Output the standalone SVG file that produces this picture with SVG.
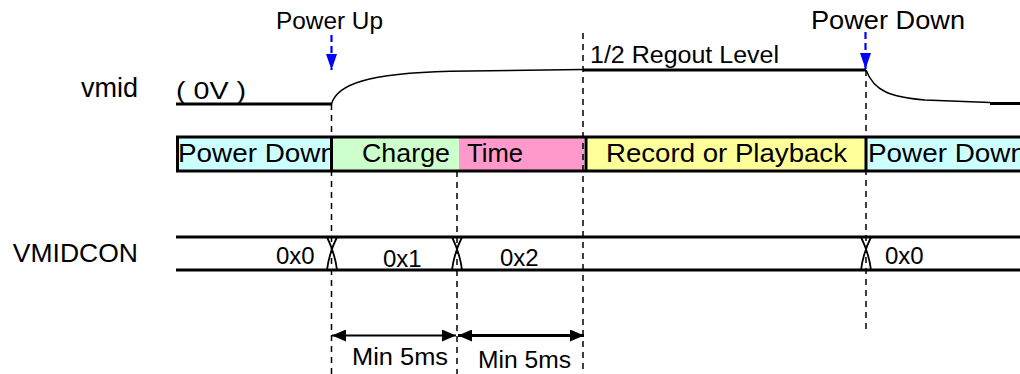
<svg xmlns="http://www.w3.org/2000/svg" width="1020" height="374" viewBox="0 0 1020 374">
<style>
text{font-family:"Liberation Sans",Arial,sans-serif;fill:#000}
.dash{stroke:#000;stroke-width:1.5;stroke-dasharray:6 5;fill:none}
.thick{stroke:#000;stroke-width:3;fill:none}
.thin{stroke:#000;stroke-width:1.5;fill:none}
.xm{stroke:#000;stroke-width:1.8;fill:none}
.blue{stroke:#0000FF;stroke-width:2.2;stroke-dasharray:7 4;fill:none}
.bar{font-size:26px}
.bus{font-size:24px}
</style>
<defs>
<marker id="bhead" markerUnits="userSpaceOnUse" markerWidth="16" markerHeight="11" refX="16" refY="5.5" orient="auto">
<path d="M0,0 L16,5.5 L0,11 z" fill="#0000FF"/>
</marker>
<marker id="khead" markerUnits="userSpaceOnUse" markerWidth="14" markerHeight="12" refX="14" refY="6" orient="auto-start-reverse">
<path d="M0,0 L14,6 L0,12 z" fill="#000"/>
</marker>
</defs>
<rect x="0" y="0" width="1020" height="374" fill="#fff"/>

<g id="labels">
<text x="138" y="97" font-size="27" text-anchor="end">vmid</text>
<text x="138" y="262" font-size="26.5" text-anchor="end">VMIDCON</text>
</g>

<g id="event-power-up">
<text x="276" y="29" font-size="23" textLength="107" lengthAdjust="spacingAndGlyphs">Power Up</text>
</g>
<g id="event-power-down">
<text x="811" y="29" font-size="26" textLength="154" lengthAdjust="spacingAndGlyphs">Power Down</text>
</g>

<g id="vmid-wave">
<path class="thick" d="M176,104 H331.5"/>
<path class="thin" d="M331.5,104 C337,84 368,73.5 450,71.3 L583,69.5"/>
<path class="thick" d="M583,70 H866"/>
<path class="thin" d="M866,70 C874,91 890,97 925,100 L990,102.6"/>
<path class="thick" d="M990,103.5 H1020"/>
<text x="176" y="99" font-size="23" textLength="70" lengthAdjust="spacingAndGlyphs">( 0V )</text>
<text x="590" y="63" font-size="23" textLength="189" lengthAdjust="spacingAndGlyphs">1/2 Regout Level</text>
</g>

<g id="state-bar">
<g id="state-power-down-1">
<rect x="176" y="137" width="156" height="34" fill="#CCFFFF"/>
<text class="bar" x="178" y="162" textLength="158" lengthAdjust="spacingAndGlyphs">Power Down</text>
</g>
<g id="state-charge">
<rect x="332" y="137" width="127" height="34" fill="#CCFFCC"/>
<text class="bar" x="362" y="162" textLength="88" lengthAdjust="spacingAndGlyphs">Charge</text>
</g>
<g id="state-time">
<rect x="459" y="137" width="125" height="34" fill="#FF99CC"/>
<text class="bar" x="467" y="162" textLength="56" lengthAdjust="spacingAndGlyphs">Time</text>
</g>
<g id="state-record">
<rect x="585" y="137" width="281" height="34" fill="#FFFF99"/>
<text class="bar" x="606" y="162" textLength="241" lengthAdjust="spacingAndGlyphs">Record or Playback</text>
</g>
<g id="state-power-down-2">
<rect x="866" y="137" width="160" height="34" fill="#CCFFFF"/>
<text class="bar" x="868" y="162" textLength="158" lengthAdjust="spacingAndGlyphs">Power Down</text>
</g>
<path class="thick" d="M176,137 H1020 M176,171 H1020 M177.5,137 V171 M331.5,137 V171 M586,137 V171 M866,137 V171"/>
</g>

<g id="vmidcon-bus">
<path class="thick" d="M176,237 H1020 M176,270 H1020"/>
<path class="xm" d="M327,237 Q335,253.5 337,270 M337,237 Q329,253.5 327,270 M452,237 Q460,253.5 462,270 M462,237 Q454,253.5 452,270 M861,237 Q869,253.5 871,270 M871,237 Q863,253.5 861,270"/>
<text class="bus" x="276" y="264">0x0</text>
<text class="bus" x="383" y="267">0x1</text>
<text class="bus" x="500" y="266">0x2</text>
<text class="bus" x="885" y="264">0x0</text>
</g>

<g id="connectors">
<path class="dash" d="M331.5,104 V374"/>
<path class="dash" d="M457,171 V374"/>
<path class="dash" d="M583,33 V374"/>
<path class="dash" d="M866,70 V330"/>
<path class="blue" d="M331.5,35 V70" marker-end="url(#bhead)"/>
<path class="blue" d="M865.5,32 V69" marker-end="url(#bhead)"/>
<path d="M332,335.5 H456" stroke="#000" stroke-width="2" marker-start="url(#khead)" marker-end="url(#khead)"/>
<path d="M458,335.5 H584" stroke="#000" stroke-width="3.2" marker-start="url(#khead)" marker-end="url(#khead)"/>
</g>

<g id="timing-labels">
<text x="352" y="365" font-size="23" textLength="96" lengthAdjust="spacingAndGlyphs">Min 5ms</text>
<text x="478" y="368" font-size="23" textLength="93" lengthAdjust="spacingAndGlyphs">Min 5ms</text>
</g>
</svg>
